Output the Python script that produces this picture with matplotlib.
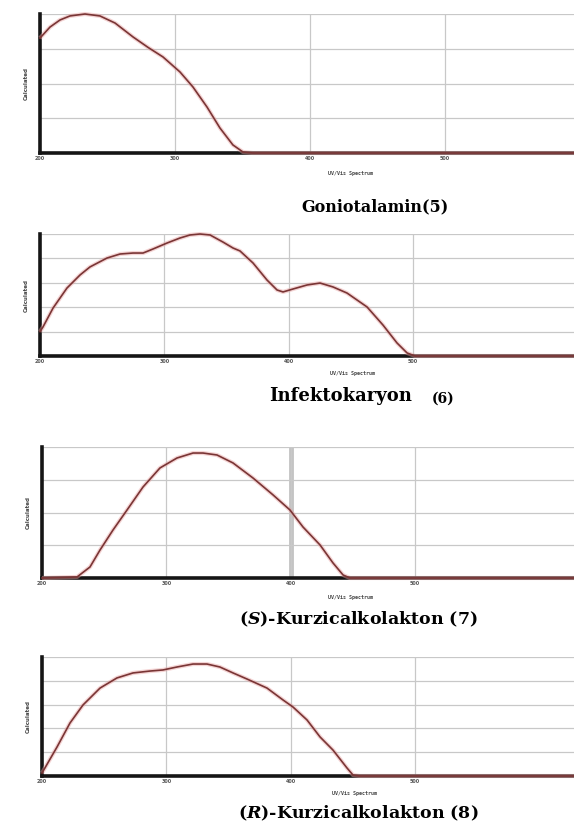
"""
Calculated UV/Vis spectra of compounds 5-8
"""

import numpy as np
import matplotlib.pyplot as plt

plt.rcParams['mathtext.fontset'] = 'custom'
plt.rcParams['mathtext.it'] = 'DejaVu Serif:italic:bold'
plt.rcParams['mathtext.rm'] = 'DejaVu Serif:bold'

W, H = 574, 825

# ====================
# DATA (wavelength in nm, relative intensity)
# ====================
tick_values = [200, 300, 400, 500]
tick_labels = ['200', '300', '400', '500']

gonio_wl = [200, 207.4, 214.8, 222.2, 233.3, 244.4, 255.6, 268.9, 280.0, 291.1,
            303.7, 313.3, 323.7, 333.3, 342.9, 350.4, 357.8, 392.6, 596]
gonio_int = [0.827, 0.906, 0.957, 0.986, 1.0, 0.986, 0.935, 0.835, 0.760, 0.691,
             0.583, 0.475, 0.331, 0.180, 0.058, 0.007, 0.0, 0.0, 0.0]

infek_wl = [200, 202.4, 210.5, 221.7, 232.2, 240.2, 253.9, 264.4, 274.8, 282.9,
            290.9, 302.2, 312.6, 320.7, 328.7, 336.8, 347.2, 355.3, 360.9, 371.4,
            382.6, 390.7, 395.5, 403.5, 414.8, 425.3, 435.7, 447.0, 463.1, 475.9,
            487.2, 495.3, 501.7, 630]
infek_int = [0.20, 0.238, 0.393, 0.557, 0.664, 0.730, 0.803, 0.836, 0.844, 0.844,
             0.877, 0.926, 0.967, 0.992, 1.0, 0.992, 0.934, 0.885, 0.861, 0.762,
             0.623, 0.541, 0.525, 0.549, 0.582, 0.598, 0.566, 0.516, 0.402, 0.254,
             0.107, 0.025, 0.0, 0.0]

kurz_s_wl = [200, 228.2, 238.6, 246.7, 257.1, 268.4, 281.3, 294.9, 308.6, 321.5,
             329.5, 340.8, 353.7, 369.8, 385.9, 399.5, 410.0, 423.7, 434.1, 442.2,
             447.8, 630]
kurz_s_int = [0.0, 0.008, 0.084, 0.214, 0.366, 0.519, 0.695, 0.840, 0.916, 0.954,
              0.954, 0.939, 0.878, 0.763, 0.634, 0.519, 0.389, 0.252, 0.115, 0.023,
              0.0, 0.0]

kurz_r_wl = [200, 212.1, 222.5, 233.0, 246.7, 260.3, 273.2, 286.9, 297.3, 308.6,
             321.5, 332.7, 343.1, 353.7, 364.9, 381.0, 393.9, 401.9, 413.2, 423.7,
             434.1, 445.4, 450.2, 455.8, 630]
kurz_r_int = [0.025, 0.244, 0.445, 0.597, 0.739, 0.824, 0.866, 0.882, 0.891, 0.916,
              0.941, 0.941, 0.916, 0.866, 0.815, 0.739, 0.639, 0.580, 0.471, 0.328,
              0.218, 0.067, 0.008, 0.0, 0.0]

# panel boxes in pixels: left, right, top, bottom ; x max ; horizontal grid intervals
panels = [
    dict(box=(40, 574, 14, 153), xmax=595.6, ngrid=4, wl=gonio_wl, inten=gonio_int),
    dict(box=(40, 574, 234, 356), xmax=629.6, ngrid=5, wl=infek_wl, inten=infek_int),
    dict(box=(42, 574, 447, 578), xmax=628.0, ngrid=4, wl=kurz_s_wl, inten=kurz_s_int),
    dict(box=(42, 574, 657, 776), xmax=628.0, ngrid=5, wl=kurz_r_wl, inten=kurz_r_int),
]

fig = plt.figure(figsize=(W / 100, H / 100), dpi=100)
fig.patch.set_facecolor('white')

axes = []
for p in panels:
    l, r, t, b = p['box']
    ax = fig.add_axes([l / W, 1 - b / H, (r - l) / W, (b - t) / H])
    ax.set_xlim(200, p['xmax'])
    ax.set_ylim(0, 1)
    ax.set_xticks(tick_values)
    ax.set_xticklabels(tick_labels, fontsize=3.5, color='#555555', fontweight='bold')
    ax.set_yticks(np.linspace(0, 1, p['ngrid'] + 1))
    ax.set_yticklabels([])
    ax.tick_params(length=0, pad=2)
    ax.grid(True, color='#c8c8c8', linewidth=0.9)
    ax.set_axisbelow(True)
    for side in ['top', 'right']:
        ax.spines[side].set_visible(False)
    for side in ['left', 'bottom']:
        ax.spines[side].set_linewidth(2.6)
        ax.spines[side].set_color('#151515')
    # soft pink halo under the trace
    ax.plot(p['wl'], p['inten'], color='#e8a0a0', linewidth=3.0, alpha=0.45,
            zorder=3, clip_on=False, solid_capstyle='butt')
    ax.plot(p['wl'], p['inten'], color='#7a3535', linewidth=1.2, zorder=4,
            clip_on=False, solid_joinstyle='round')
    ax.set_ylabel('Calculated', fontsize=4, color='#444444', fontweight='bold',
                  labelpad=6)
    axes.append(ax)

# thicker gridline in panel 7
axes[2].axvline(400, color='#c4c4c4', linewidth=3.5, zorder=0.5)

# x-axis captions
for xc, yc in [(350, 174), (352, 374), (350, 598), (355, 794)]:
    fig.text(xc / W, 1 - yc / H, 'UV/Vis Spectrum', fontsize=3.6, color='#444444',
             fontweight='bold', family='DejaVu Sans Mono', ha='center', va='center')

# compound names
serif = 'DejaVu Serif'
fig.text(375 / W, 1 - 207 / H, 'Goniotalamin(5)', fontsize=11.5, fontweight='bold',
         family=serif, ha='center', va='center')
fig.text(341 / W, 1 - 396 / H, 'Infektokaryon', fontsize=13, fontweight='bold',
         family=serif, ha='center', va='center')
fig.text(443 / W, 1 - 399 / H, '(6)', fontsize=10, fontweight='bold',
         family=serif, ha='center', va='center')
fig.text(358 / W, 1 - 619 / H, r'($\mathit{S}$)-Kurzicalkolakton (7)', fontsize=12.5,
         fontweight='bold', family=serif, ha='center', va='center')
fig.text(358 / W, 1 - 813 / H, r'($\mathit{R}$)-Kurzicalkolakton (8)', fontsize=12.5,
         fontweight='bold', family=serif, ha='center', va='center')

fig.savefig('out.png', dpi=100)
